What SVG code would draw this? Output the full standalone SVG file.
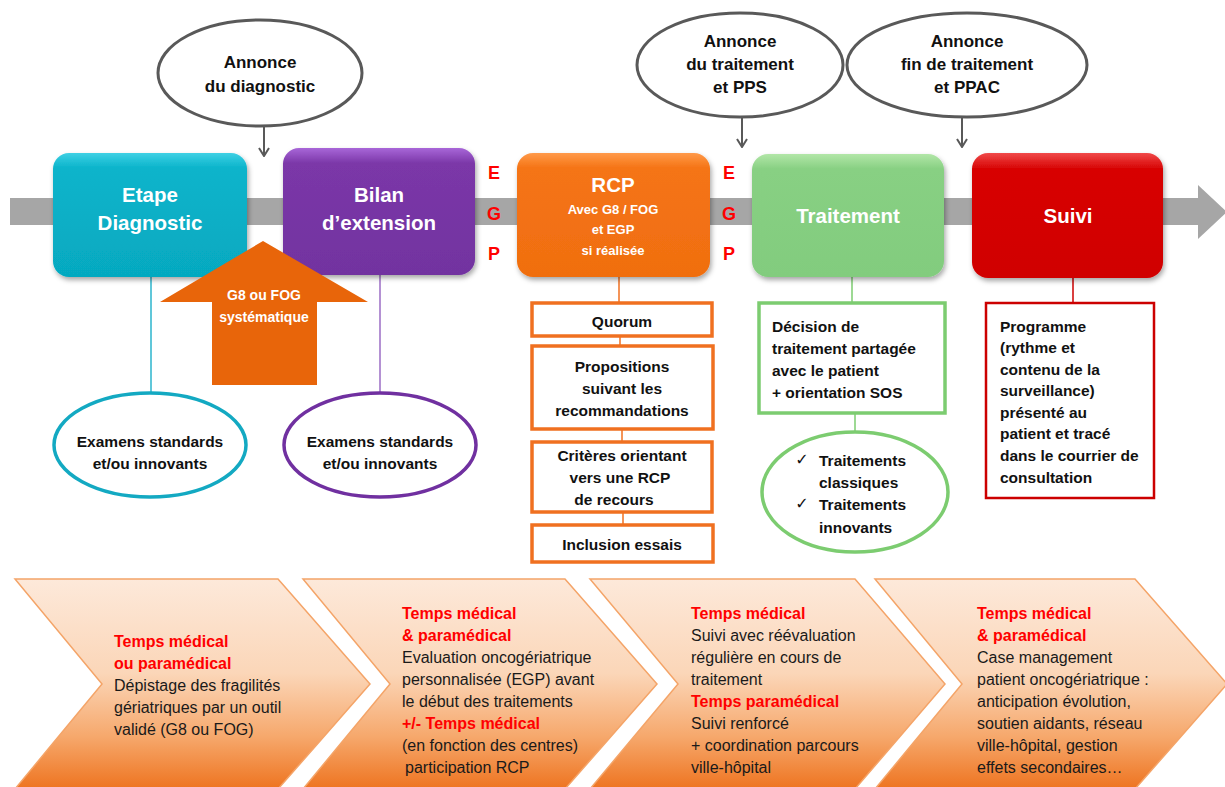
<svg xmlns="http://www.w3.org/2000/svg" width="1225" height="787" viewBox="0 0 1225 787">
<style>
  text { font-family: "Liberation Sans", Arial, sans-serif; }
  .t-title { font-size: 20.5px; font-weight: bold; fill: #ffffff; text-anchor: middle; }
  .t-sub { font-size: 13px; font-weight: bold; fill: #ffffff; text-anchor: middle; }
  .t-ell { font-size: 17px; font-weight: bold; fill: #111111; text-anchor: middle; }
  .t-box { font-size: 15.5px; font-weight: bold; fill: #111111; }
  .t-boxc { font-size: 15.5px; font-weight: bold; fill: #111111; text-anchor: middle; }
  .t-egp { font-size: 18px; font-weight: bold; fill: #ff0000; text-anchor: middle; }
  .t-chev { font-size: 16px; fill: #1a1a1a; }
  .t-chevh { font-size: 16px; font-weight: bold; fill: #ff0000; }
  .t-check { font-family: "DejaVu Sans", sans-serif; font-size: 16px; fill: #111111; text-anchor: middle; }
  .ann { fill: #ffffff; stroke: #595959; stroke-width: 3; }
  .chev { fill: url(#gChev); stroke: #f4a468; stroke-width: 1.5; }
  .obox { fill: #ffffff; stroke: #f07020; stroke-width: 3.5; }
  .conn-gray { stroke: #595959; stroke-width: 2; fill: none; }
</style>
<defs>
  <linearGradient id="gChev" x1="0" y1="0" x2="0" y2="1">
    <stop offset="0" stop-color="#fde9da"/>
    <stop offset="0.45" stop-color="#fbd6b8"/>
    <stop offset="0.75" stop-color="#f6a86c"/>
    <stop offset="1" stop-color="#ee7420"/>
  </linearGradient>
  <linearGradient id="gTeal" x1="0" y1="0" x2="0" y2="1">
    <stop offset="0" stop-color="#3fd0e4"/>
    <stop offset="0.12" stop-color="#0ab4cb"/>
    <stop offset="1" stop-color="#06a9c0"/>
  </linearGradient>
  <linearGradient id="gPurple" x1="0" y1="0" x2="0" y2="1">
    <stop offset="0" stop-color="#a866d8"/>
    <stop offset="0.12" stop-color="#7b37a8"/>
    <stop offset="1" stop-color="#7233a0"/>
  </linearGradient>
  <linearGradient id="gOrange" x1="0" y1="0" x2="0" y2="1">
    <stop offset="0" stop-color="#ff9a4a"/>
    <stop offset="0.12" stop-color="#f57415"/>
    <stop offset="1" stop-color="#f06e10"/>
  </linearGradient>
  <linearGradient id="gGreen" x1="0" y1="0" x2="0" y2="1">
    <stop offset="0" stop-color="#b2e6a8"/>
    <stop offset="0.12" stop-color="#88d083"/>
    <stop offset="1" stop-color="#82cc7e"/>
  </linearGradient>
  <linearGradient id="gRed" x1="0" y1="0" x2="0" y2="1">
    <stop offset="0" stop-color="#f04a4a"/>
    <stop offset="0.12" stop-color="#d80606"/>
    <stop offset="1" stop-color="#d00404"/>
  </linearGradient>
  <filter id="shadow" x="-10%" y="-10%" width="130%" height="140%">
    <feDropShadow dx="1.5" dy="3" stdDeviation="2.5" flood-color="#000000" flood-opacity="0.35"/>
  </filter>
  <marker id="vArrow" viewBox="0 0 10 12" refX="9" refY="6" markerWidth="10" markerHeight="12" markerUnits="userSpaceOnUse" orient="auto">
    <path d="M1,1 L9,6 L1,11" fill="none" stroke="#595959" stroke-width="2"/>
  </marker>
</defs>

<!-- timeline bar -->
<g id="timeline">
  <rect x="10" y="198" width="1190" height="27" fill="#a6a6a6"/>
  <polygon points="1198,185 1227,212 1198,239" fill="#a6a6a6"/>
</g>

<!-- bottom chevrons -->
<g id="chevron1">
  <path class="chev" d="M15,579 L278,579 L370,684 L278,789 L15,789 L102,684 Z"/>
  <text class="t-chevh" x="114" y="647">Temps médical</text>
  <text class="t-chevh" x="114" y="669">ou paramédical</text>
  <text class="t-chev" x="114" y="691">Dépistage des fragilités</text>
  <text class="t-chev" x="114" y="713">gériatriques par un outil</text>
  <text class="t-chev" x="114" y="735">validé (G8 ou FOG)</text>
</g>
<g id="chevron2">
  <path class="chev" d="M303,579 L565,579 L657,684 L565,789 L303,789 L390,684 Z"/>
  <text class="t-chevh" x="402" y="619">Temps médical</text>
  <text class="t-chevh" x="402" y="641">&amp; paramédical</text>
  <text class="t-chev" x="402" y="663">Evaluation oncogériatrique</text>
  <text class="t-chev" x="402" y="685">personnalisée (EGP) avant</text>
  <text class="t-chev" x="402" y="707">le début des traitements</text>
  <text class="t-chevh" x="402" y="729">+/-  Temps médical</text>
  <text class="t-chev" x="402" y="751">(en fonction des centres)</text>
  <text class="t-chev" x="405" y="773">participation RCP</text>
</g>
<g id="chevron3">
  <path class="chev" d="M590,579 L855,579 L945,684 L855,789 L590,789 L678,684 Z"/>
  <text class="t-chevh" x="691" y="619">Temps médical</text>
  <text class="t-chev" x="691" y="641">Suivi avec réévaluation</text>
  <text class="t-chev" x="691" y="663">régulière en cours de</text>
  <text class="t-chev" x="691" y="685">traitement</text>
  <text class="t-chevh" x="691" y="707">Temps paramédical</text>
  <text class="t-chev" x="691" y="729">Suivi renforcé</text>
  <text class="t-chev" x="691" y="751">+ coordination parcours</text>
  <text class="t-chev" x="691" y="773">ville-hôpital</text>
</g>
<g id="chevron4">
  <path class="chev" d="M875,579 L1135,579 L1227,684 L1135,789 L875,789 L962,684 Z"/>
  <text class="t-chevh" x="977" y="619">Temps médical</text>
  <text class="t-chevh" x="977" y="641">&amp; paramédical</text>
  <text class="t-chev" x="977" y="663">Case management</text>
  <text class="t-chev" x="977" y="685">patient oncogériatrique :</text>
  <text class="t-chev" x="977" y="707">anticipation évolution,</text>
  <text class="t-chev" x="977" y="729">soutien aidants, réseau</text>
  <text class="t-chev" x="977" y="751">ville-hôpital, gestion</text>
  <text class="t-chev" x="977" y="773">effets secondaires…</text>
</g>

<!-- connectors -->
<g id="connectors">
  <line class="conn-gray" x1="264" y1="127" x2="264" y2="156" marker-end="url(#vArrow)"/>
  <line class="conn-gray" x1="742" y1="118" x2="742" y2="147" marker-end="url(#vArrow)"/>
  <line class="conn-gray" x1="962" y1="118" x2="962" y2="147" marker-end="url(#vArrow)"/>
  <line x1="151" y1="277" x2="151" y2="393" stroke="#2bb5cc" stroke-width="1.5"/>
  <line x1="380" y1="275" x2="380" y2="393" stroke="#9b6cc4" stroke-width="1.5"/>
  <line x1="619" y1="277" x2="619" y2="303" stroke="#f07020" stroke-width="1.5"/>
  <line x1="620" y1="336" x2="620" y2="346" stroke="#f07020" stroke-width="1.5"/>
  <line x1="622" y1="429" x2="622" y2="442" stroke="#f07020" stroke-width="1.5"/>
  <line x1="623" y1="512" x2="623" y2="525" stroke="#f07020" stroke-width="1.5"/>
  <line x1="852" y1="277" x2="852" y2="303" stroke="#7ccc70" stroke-width="1.5"/>
  <line x1="855" y1="413" x2="855" y2="432" stroke="#7ccc70" stroke-width="1.5"/>
  <line x1="1073" y1="278" x2="1073" y2="303" stroke="#cc0000" stroke-width="1.5"/>
</g>

<!-- announcement ellipses -->
<g id="annonce-diagnostic">
  <ellipse class="ann" cx="260" cy="73" rx="102" ry="53"/>
  <text class="t-ell" x="260" y="68">Annonce</text>
  <text class="t-ell" x="260" y="92">du diagnostic</text>
</g>
<g id="annonce-traitement">
  <ellipse class="ann" cx="740" cy="65" rx="103" ry="52"/>
  <text class="t-ell" x="740" y="47">Annonce</text>
  <text class="t-ell" x="740" y="70">du traitement</text>
  <text class="t-ell" x="740" y="93">et PPS</text>
</g>
<g id="annonce-fin">
  <ellipse class="ann" cx="967" cy="65" rx="120" ry="52"/>
  <text class="t-ell" x="967" y="47">Annonce</text>
  <text class="t-ell" x="967" y="70">fin de traitement</text>
  <text class="t-ell" x="967" y="93">et PPAC</text>
</g>

<!-- main step boxes -->
<g id="etape-diagnostic">
  <rect x="53" y="153" width="194" height="124" rx="16" fill="url(#gTeal)" filter="url(#shadow)"/>
  <text class="t-title" x="150" y="202">Etape</text>
  <text class="t-title" x="150" y="230">Diagnostic</text>
</g>
<g id="bilan-extension">
  <rect x="283" y="148" width="192" height="127" rx="16" fill="url(#gPurple)" filter="url(#shadow)"/>
  <text class="t-title" x="379" y="202">Bilan</text>
  <text class="t-title" x="379" y="230">d’extension</text>
</g>
<g id="g8-fog">
  <polygon points="263,241 368,302 317,302 317,385 212,385 212,302 160,302" fill="#e8650a"/>
  <text x="264" y="300" font-size="14" font-weight="bold" fill="#ffffff" text-anchor="middle">G8 ou  FOG</text>
  <text x="264" y="322" font-size="14" font-weight="bold" fill="#ffffff" text-anchor="middle">systématique</text>
</g>
<g id="egp1">
  <text class="t-egp" x="494" y="179">E</text>
  <text class="t-egp" x="494" y="220">G</text>
  <text class="t-egp" x="494" y="260">P</text>
</g>
<g id="rcp">
  <rect x="517" y="153" width="193" height="124" rx="16" fill="url(#gOrange)" filter="url(#shadow)"/>
  <text class="t-title" x="613" y="192">RCP</text>
  <text class="t-sub" x="613" y="214">Avec G8  / FOG</text>
  <text class="t-sub" x="613" y="234">et EGP</text>
  <text class="t-sub" x="613" y="255">si réalisée</text>
</g>
<g id="egp2">
  <text class="t-egp" x="729" y="179">E</text>
  <text class="t-egp" x="729" y="220">G</text>
  <text class="t-egp" x="729" y="260">P</text>
</g>
<g id="traitement">
  <rect x="752" y="154" width="192" height="123" rx="16" fill="url(#gGreen)" filter="url(#shadow)"/>
  <text class="t-title" x="848" y="223">Traitement</text>
</g>
<g id="suivi">
  <rect x="972" y="153" width="191" height="125" rx="16" fill="url(#gRed)" filter="url(#shadow)"/>
  <text class="t-title" x="1068" y="223">Suivi</text>
</g>

<!-- examens ellipses -->
<g id="examens-diag">
  <ellipse cx="150" cy="445" rx="96" ry="52" fill="#ffffff" stroke="#13a9c2" stroke-width="3.5"/>
  <text class="t-boxc" x="150" y="447">Examens standards</text>
  <text class="t-boxc" x="150" y="469">et/ou innovants</text>
</g>
<g id="examens-bilan">
  <ellipse cx="380" cy="445" rx="96" ry="52" fill="#ffffff" stroke="#7030a0" stroke-width="3.5"/>
  <text class="t-boxc" x="380" y="447">Examens standards</text>
  <text class="t-boxc" x="380" y="469">et/ou innovants</text>
</g>

<!-- RCP sub-boxes -->
<g id="quorum">
  <rect class="obox" x="532" y="303" width="180" height="33"/>
  <text class="t-boxc" x="622" y="327">Quorum</text>
</g>
<g id="propositions">
  <rect class="obox" x="532" y="346" width="181" height="83"/>
  <text class="t-boxc" x="622" y="372">Propositions</text>
  <text class="t-boxc" x="622" y="394">suivant les</text>
  <text class="t-boxc" x="622" y="416">recommandations</text>
</g>
<g id="criteres">
  <rect class="obox" x="532" y="442" width="180" height="70"/>
  <text class="t-boxc" x="622" y="461">Critères orientant</text>
  <text class="t-boxc" x="620" y="483">vers une RCP</text>
  <text class="t-boxc" x="614" y="505">de recours</text>
</g>
<g id="inclusion">
  <rect class="obox" x="532" y="525" width="181" height="37"/>
  <text class="t-boxc" x="622" y="550">Inclusion essais</text>
</g>

<!-- Traitement sub-nodes -->
<g id="decision">
  <rect x="759" y="303" width="186" height="110" fill="#ffffff" stroke="#7ccc70" stroke-width="3.5"/>
  <text class="t-box" x="772" y="332">Décision de</text>
  <text class="t-box" x="772" y="354">traitement partagée</text>
  <text class="t-box" x="772" y="376">avec le patient</text>
  <text class="t-box" x="772" y="398">+ orientation SOS</text>
</g>
<g id="traitements-types">
  <ellipse cx="855" cy="492" rx="93" ry="60" fill="#ffffff" stroke="#7ccc70" stroke-width="3.5"/>
  <text class="t-check" x="802" y="465">✓</text>
  <text class="t-box" x="819" y="466">Traitements</text>
  <text class="t-box" x="819" y="488">classiques</text>
  <text class="t-check" x="802" y="509">✓</text>
  <text class="t-box" x="819" y="510">Traitements</text>
  <text class="t-box" x="819" y="533">innovants</text>
</g>

<!-- Suivi sub-box -->
<g id="programme">
  <rect x="986" y="303" width="168" height="195" fill="#ffffff" stroke="#cc0000" stroke-width="2.5"/>
  <text class="t-box" x="1000" y="332">Programme</text>
  <text class="t-box" x="1000" y="353">(rythme et</text>
  <text class="t-box" x="1000" y="375">contenu de la</text>
  <text class="t-box" x="1000" y="396">surveillance)</text>
  <text class="t-box" x="1000" y="418">présenté au</text>
  <text class="t-box" x="1000" y="439">patient et tracé</text>
  <text class="t-box" x="1000" y="461">dans le courrier de</text>
  <text class="t-box" x="1000" y="483">consultation</text>
</g>
</svg>
